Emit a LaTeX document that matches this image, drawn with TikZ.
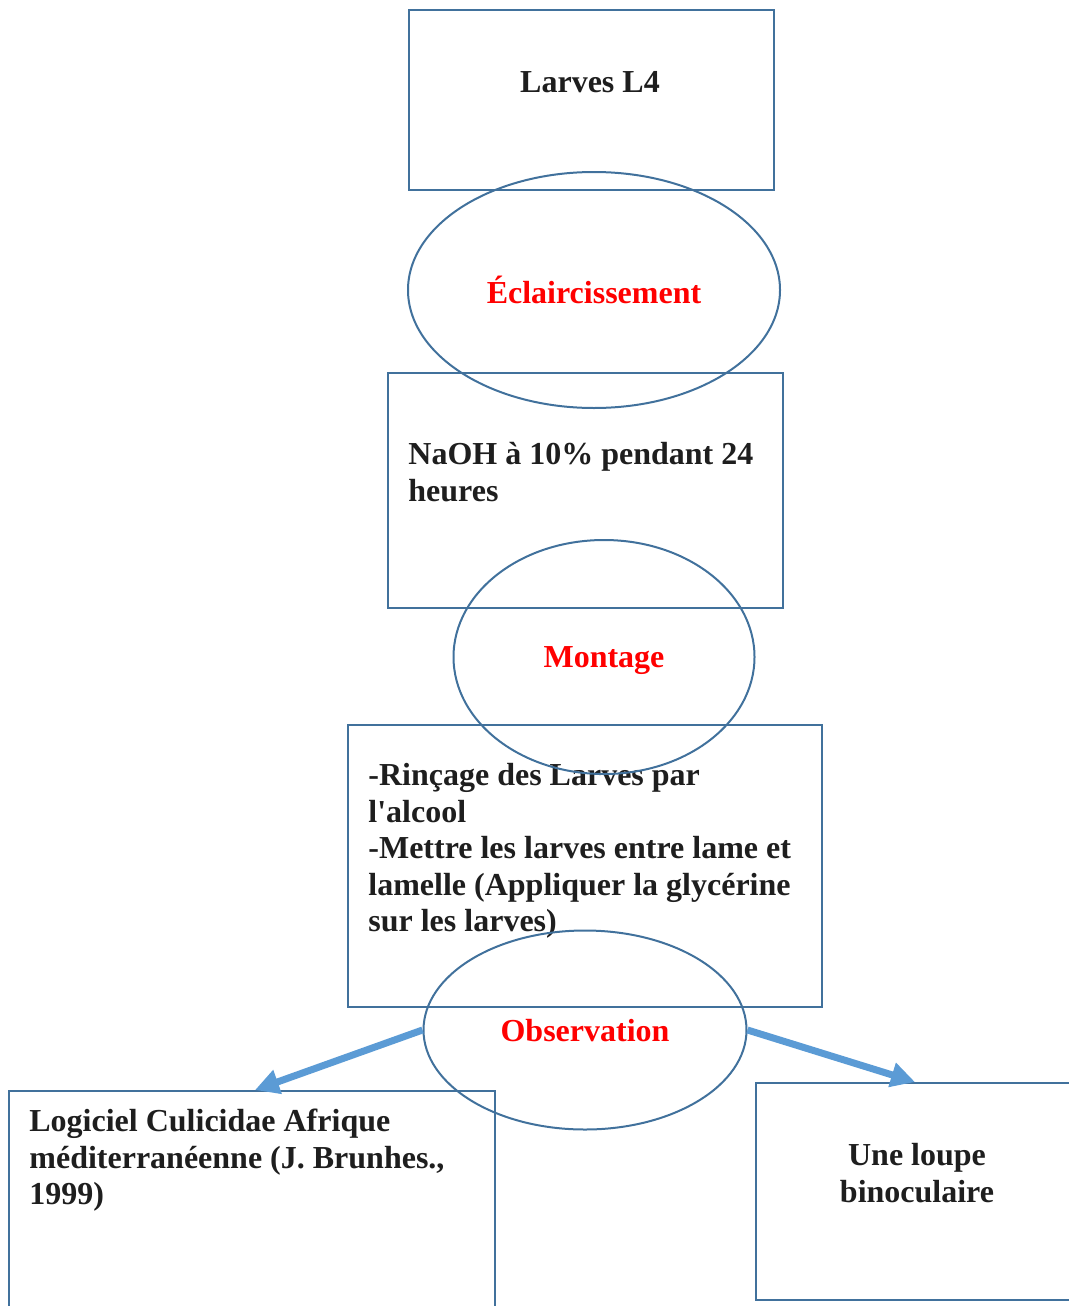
\documentclass[tikz,border=0pt]{standalone}
\usepackage{fontspec}
\setmainfont{Liberation Serif}
\definecolor{boxblue}{RGB}{65,113,156}
\definecolor{arrowblue}{RGB}{91,155,213}
\definecolor{labelred}{RGB}{255,0,0}
\definecolor{textdark}{RGB}{30,30,30}
\usetikzlibrary{shapes.geometric, arrows.meta, positioning}
\tikzset{
  stepbox/.style={rectangle, draw=boxblue, line width=1pt, inner sep=0pt,
    anchor=north west},
  phase/.style={ellipse, draw=boxblue, line width=1pt, inner sep=0pt,
    text depth=0pt, text=labelred, font=\bfseries\fontsize{16}{18.25}\selectfont},
  boxtext/.style={inner sep=0pt, text=textdark, align=left,
    font=\bfseries\fontsize{16}{18.25}\selectfont},
  arrow/.style={-{Triangle[length=12pt, width=12pt]}, line width=3.5pt,
    color=arrowblue},
}
\begin{document}
\begin{tikzpicture}[x=0.5pt, y=-0.5pt]
  \useasboundingbox (0,0) rectangle (1069,1306);
  \clip (0,0) rectangle (1069,1306);
  % boxes
  \node[stepbox, minimum width=182.5pt, minimum height=90pt] (larves) at (408,9) {};
  \node[stepbox, minimum width=197.5pt, minimum height=117.5pt] (naoh) at (387,372) {};
  \node[stepbox, minimum width=237pt, minimum height=141pt] (rincage) at (347,724) {};
  \node[stepbox, minimum width=243pt, minimum height=125pt] (logiciel) at (8,1090) {};
  \node[stepbox, minimum width=160pt, minimum height=108.5pt] (loupe) at (755,1082) {};
  % texts
  \node[boxtext] (tlarves) at (590,82) {Larves L4};
  \node[boxtext, anchor=north west] (tnaoh) at (408,442) {NaOH à 10\% pendant 24\\heures};
  \node[boxtext, anchor=north west] (trincage) at (368,763)
    {-Rinçage des Larves par\\l\textquotesingle alcool\\-Mettre les larves entre lame et\\lamelle (Appliquer la glycérine\\sur les larves)};
  \node[boxtext, anchor=north west] (tlogiciel) at (29,1109)
    {Logiciel Culicidae Afrique\\méditerranéenne (J. Brunhes.,\\1999)};
  \node[boxtext, align=center] (tloupe) at (917,1173) {Une loupe\\binoculaire};
  % phases
  \node[phase, minimum width=186pt, minimum height=118pt] (eclair) at (594,290) {Éclaircissement};
  \node[phase, minimum width=150.5pt, minimum height=117pt] (montage) at (604,657) {Montage};
  \node[phase, minimum width=161.5pt, minimum height=99.5pt] (observ) at (585,1030) {Observation};
  % arrows
  \draw[arrow] (observ.west) -- ([xshift=123.5pt]logiciel.north west);
  \draw[arrow] (observ.east) -- ([xshift=80pt]loupe.north west);
\end{tikzpicture}
\end{document}
